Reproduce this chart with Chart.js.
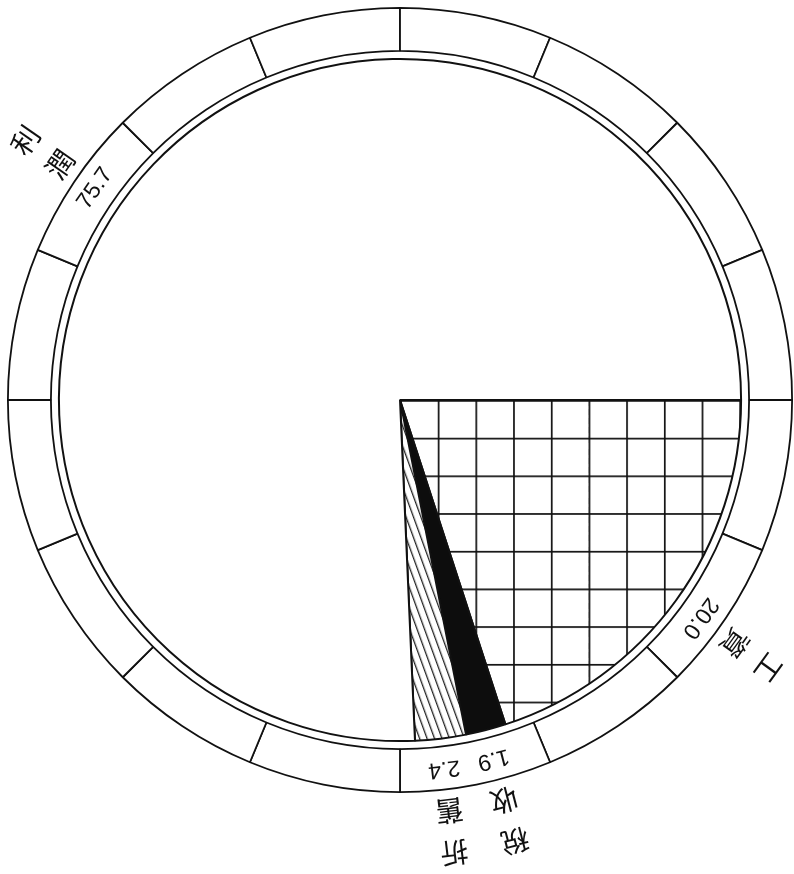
<!DOCTYPE html>
<html>
<head>
<meta charset="utf-8">
<script src="https://cdn.jsdelivr.net/npm/chart.js@4.4.1/dist/chart.umd.min.js"></script>
<style>
  html, body { margin: 0; padding: 0; background: #fff; }
</style>
</head>
<body>
<canvas id="grafico" width="794" height="874"></canvas>
<script>
// dados do gráfico (fatias na ordem horária, começando às 3 horas)
const categorias = ['工資', '稅收', '折舊', '利潤'];
const valores = [20.0, 1.9, 2.4, 75.7];
const rotulosValor = ['20.0', '1.9', '2.4', '75.7'];
const divisoesAnel = [1, 1, 1, 1, 1, 1, 1, 1, 1, 1, 1, 1, 1, 1, 1, 1];

// padrão quadriculado
function criarGrade() {
  const c = document.createElement('canvas');
  c.width = 40; c.height = 40;
  const g = c.getContext('2d');
  g.fillStyle = '#fff';
  g.fillRect(0, 0, 40, 40);
  g.fillStyle = '#111';
  g.fillRect(0, 0, 40, 1.8);
  g.fillRect(0, 0, 1.8, 40);
  return g.createPattern(c, 'repeat');
}

// padrão hachurado
function criarHachura() {
  const c = document.createElement('canvas');
  c.width = 7; c.height = 7;
  const g = c.getContext('2d');
  g.fillStyle = '#fff';
  g.fillRect(0, 0, 7, 7);
  g.fillStyle = '#222';
  g.fillRect(0, 0, 1.3, 7);
  return g.createPattern(c, 'repeat');
}

const padraoGrade = criarGrade();
const padraoHachura = criarHachura();

function escreverRotacionado(ctx, cx, cy, ang, r, texto, fonte) {
  ctx.save();
  ctx.translate(cx + r * Math.cos(ang), cy + r * Math.sin(ang));
  ctx.rotate(ang + Math.PI / 2);
  ctx.font = fonte;
  ctx.fillStyle = '#111';
  ctx.textAlign = 'center';
  ctx.textBaseline = 'middle';
  ctx.fillText(texto, 0, 0);
  ctx.restore();
}

// deslocamento angular (graus) do rótulo da fatia grande
const ajusteAngulo = [0, 0, 0, -9];

const rotulosPlugin = {
  id: 'rotulos',
  beforeDatasetsDraw(chart) {
    const arc = chart.getDatasetMeta(2).data[0];
    padraoGrade.setTransform(new DOMMatrix().translate(arc.x, arc.y).scale(37.7 / 40));
    padraoHachura.setTransform(new DOMMatrix().translate(arc.x, arc.y).rotate(-20));
  },
  afterDatasetsDraw(chart) {
    const ctx = chart.ctx;
    const meta = chart.getDatasetMeta(2);
    meta.data.forEach((arc, i) => {
      const ang = (arc.startAngle + arc.endAngle) / 2 + ajusteAngulo[i] * Math.PI / 180;
      escreverRotacionado(ctx, arc.x, arc.y, ang, 371, rotulosValor[i], '23px "Liberation Sans"');
      Array.from(categorias[i]).forEach((ch, k) => {
        escreverRotacionado(ctx, arc.x, arc.y, ang, 456 - k * 42, ch, '28px "Noto Sans CJK TC"');
      });
    });
  }
};

new Chart(document.getElementById('grafico'), {
  type: 'pie',
  data: {
    labels: categorias,
    datasets: [
      {
        // anel externo dividido em 16 partes
        data: divisoesAnel,
        backgroundColor: '#fff',
        borderColor: '#111',
        borderWidth: 1.8,
        weight: 43
      },
      {
        // espaço entre o anel e o círculo
        data: [1],
        backgroundColor: 'rgba(0,0,0,0)',
        borderWidth: 0,
        weight: 8
      },
      {
        data: valores,
        backgroundColor: [padraoGrade, '#0d0d0d', padraoHachura, '#fff'],
        borderColor: '#111',
        borderWidth: 2,
        weight: 341
      }
    ]
  },
  options: {
    responsive: false,
    animation: false,
    events: [],
    rotation: 90,
    layout: { padding: { left: 7, top: 7, right: 1, bottom: 81 } },
    plugins: {
      legend: { display: false },
      tooltip: { enabled: false }
    }
  },
  plugins: [rotulosPlugin]
});
</script>
</body>
</html>
